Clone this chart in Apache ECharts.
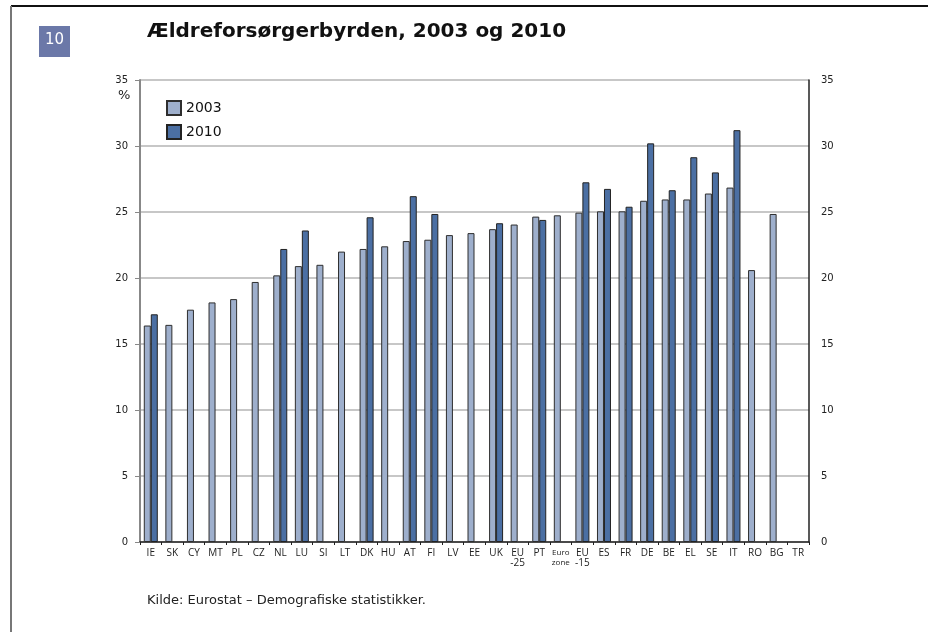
<!DOCTYPE html>
<html>
<head>
<meta charset="utf-8">
<script src="https://cdn.jsdelivr.net/npm/echarts@6/dist/echarts.min.js"></script>
<style>html,body{margin:0;padding:0;background:#fff}#c{width:928px;height:632px}</style>
</head>
<body>
<div id="c"></div>
<script>
const categories = ['IE','SK','CY','MT','PL','CZ','NL','LU','SI','LT','DK','HU','AT','FI','LV','EE','UK','EU\n-25','PT','Euro\nzone','EU\n-15','ES','FR','DE','BE','EL','SE','IT','RO','BG','TR'];
const v2003 = [16.4,16.45,17.6,18.15,18.4,19.7,20.2,20.9,21.0,22.0,22.2,22.4,22.8,22.9,23.25,23.4,23.7,24.05,24.65,24.75,24.95,25.05,25.05,25.85,25.95,25.95,26.4,26.85,20.6,24.85,null];
const v2010 = [17.25,null,null,null,null,null,22.2,23.6,null,null,24.6,null,26.2,24.85,null,null,24.15,null,24.4,null,27.25,26.75,25.4,30.2,26.65,29.15,28.0,31.2,null,null,null];
const yTicks = [0,5,10,15,20,25,30,35];
const seriesNames = ['2003','2010'];
const titleText = 'Ældreforsørgerbyrden, 2003 og 2010';
const sourceText = 'Kilde: Eurostat – Demografiske statistikker.';

const chart = echarts.init(document.getElementById('c'), null, {renderer:'canvas'});
const font = 'DejaVu Sans, Verdana, sans-serif';
const yAxisBase = {
  type:'value', min:0, max:35, interval:5,
  axisLabel:{color:'#222', fontSize:10, fontFamily:font},
  splitLine:{show:true, lineStyle:{color:'#b4b4b4', width:1.5}},
};
chart.setOption({
  animation:false,
  backgroundColor:'#fff',
  grid:{left:140, right:119, top:80, bottom:90, containLabel:false},
  legend:{
    data:seriesNames.map(n=>({name:n, icon:'rect'})), orient:'vertical', left:161, top:95, itemWidth:14, itemHeight:14, itemGap:8,
    textStyle:{fontSize:14, fontFamily:font, color:'#111'}
  },
  xAxis:{
    type:'category', data:categories,
    axisLine:{lineStyle:{color:'#222', width:1.5}},
    axisTick:{show:true, length:3, lineStyle:{color:'#222'}},
    axisLabel:{
      interval:0, color:'#222', fontSize:10, fontFamily:'Open Sans, sans-serif', margin:6, lineHeight:10,
      formatter:function(v){ if(v.indexOf('Euro')===0){ return '{s|Euro}\n{s|zone}'; } return v; },
      rich:{s:{fontSize:8, fontFamily:'Open Sans, sans-serif', color:'#222', lineHeight:10}}
    }
  },
  yAxis:[
    Object.assign({}, yAxisBase, {
      position:'left',
      axisLine:{show:true, lineStyle:{color:'#888', width:2}},
      axisTick:{show:true, length:5, lineStyle:{color:'#888'}},
      axisLabel:{color:'#222', fontSize:10, fontFamily:font, margin:12}
    }),
    Object.assign({}, yAxisBase, {
      position:'right',
      axisLine:{show:true, lineStyle:{color:'#222', width:1.5}},
      axisTick:{show:false},
      axisLabel:{color:'#222', fontSize:10, fontFamily:font, margin:12},
      splitLine:{show:false}
    })
  ],
  series:[
    {name:seriesNames[0], type:'bar', data:v2003, barWidth:7, barGap:'0%',
     itemStyle:{color:'#9eafcc', borderColor:'#2e2e2e', borderWidth:1}},
    {name:seriesNames[1], type:'bar', data:v2010, barWidth:7, barGap:'0%',
     itemStyle:{color:'#4b6fa3', borderColor:'#222', borderWidth:1}}
  ],
  graphic:[
    {type:'line', shape:{x1:11, y1:6, x2:928, y2:6}, style:{stroke:'#111', lineWidth:2}},
    {type:'line', shape:{x1:11, y1:6, x2:11, y2:632}, style:{stroke:'#777', lineWidth:2}},
    {type:'rect', shape:{x:39, y:26, width:31, height:31}, style:{fill:'#6b78a8'}},
    {type:'text', left:45, top:33, style:{text:'10', fill:'#fff', font:'15px '+font}},
    {type:'text', left:147, top:22, style:{text:titleText, fill:'#111', font:'bold 20px '+font}},
    {type:'text', left:118, top:89, style:{text:'%', fill:'#222', font:'13px '+font}},
    {type:'text', left:147, top:594, style:{text:sourceText, fill:'#222', font:'13px '+font}}
  ]
});
</script>
</body>
</html>
